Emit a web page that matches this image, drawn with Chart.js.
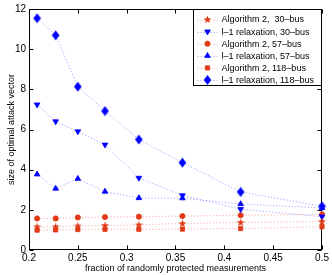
<!DOCTYPE html>
<html><head><meta charset="utf-8">
<script src="https://cdn.jsdelivr.net/npm/chart.js@4"></script>
<style>html,body{margin:0;padding:0;background:#fff;}#wrap{width:332px;height:275px;position:relative;}</style>
</head><body><div id="wrap"><canvas id="c"></canvas></div>
<script>
// ---- data ----
const fractions = [0.2083, 0.2273, 0.25, 0.2778, 0.3125, 0.3571, 0.4167, 0.5];
const alg2_30  = [1.16, 1.16, 1.20, 1.22, 1.25, 1.32, 1.37, 1.42];
const l1_30    = [7.24, 6.40, 5.90, 5.24, 3.59, 2.72, 2.03, 1.66];
const alg2_57  = [1.57, 1.57, 1.62, 1.64, 1.66, 1.69, 1.73, 1.77];
const l1_57    = [3.77, 3.06, 3.55, 2.91, 2.59, 2.58, 2.29, 2.10];
const alg2_118 = [0.99, 1.00, 1.02, 1.03, 1.03, 1.04, 1.07, 1.16];
const l1_118   = [11.54, 10.69, 8.13, 6.92, 5.50, 4.35, 2.89, 2.18];
const seriesLabels = ['Algorithm 2,  30\u2013bus', 'l\u20131 relaxation, 30\u2013bus', 'Algorithm 2, 57\u2013bus',
  'l\u20131 relaxation, 57\u2013bus', 'Algorithm 2, 118\u2013bus', 'l\u20131 relaxation, 118\u2013bus'];
const xTickValues = [0.2, 0.25, 0.3, 0.35, 0.4, 0.45, 0.5];
const yTickValues = [0, 2, 4, 6, 8, 10, 12];
const xTitle = 'fraction of randomly protected measurements';
const yTitle = 'size of optimal attack vector';

// ---- styles ----
const RED = 'rgb(224,58,22)', RED_LINE = 'rgba(235,90,70,0.45)';
const BLUE = 'rgb(0,0,255)', BLUE_LINE = 'rgba(80,80,255,0.5)';
const FONT = "'Liberation Sans', Arial, Helvetica, sans-serif";

function starImg(color) {
  const c = document.createElement('canvas'); c.width = 9; c.height = 9;
  const g = c.getContext('2d'); g.fillStyle = color; g.beginPath();
  for (let i = 0; i < 10; i++) {
    const r = i % 2 ? 1.7 : 4.2, a = -Math.PI / 2 + i * Math.PI / 5;
    const px = 4.5 + r * Math.cos(a), py = 4.7 + r * Math.sin(a);
    i ? g.lineTo(px, py) : g.moveTo(px, py);
  }
  g.closePath(); g.fill(); return c;
}
function diamondImg(color) {
  const c = document.createElement('canvas'); c.width = 9; c.height = 11;
  const g = c.getContext('2d'); g.fillStyle = color; g.beginPath();
  g.moveTo(4.5, 0.5); g.lineTo(8.3, 5.5); g.lineTo(4.5, 10.5); g.lineTo(0.7, 5.5); g.closePath(); g.fill();
  return c;
}

const toPts = ys => ys.map((y, i) => ({x: fractions[i], y}));
function ds(label, ys, lineColor, color, style, radius, rotation) {
  return {label, data: toPts(ys), borderColor: lineColor, borderWidth: 1, borderDash: [1.2, 2],
    pointStyle: style, pointRadius: radius, pointRotation: rotation || 0,
    pointBackgroundColor: color, pointBorderColor: color, pointBorderWidth: 0.8,
    pointHoverRadius: radius, clip: false, tension: 0, fill: false};
}
const datasets = [
  ds(seriesLabels[0], alg2_30, RED_LINE, RED, starImg(RED), 4),
  ds(seriesLabels[1], l1_30, BLUE_LINE, BLUE, 'triangle', 3.3, 180),
  ds(seriesLabels[2], alg2_57, RED_LINE, RED, 'circle', 2.6),
  ds(seriesLabels[3], l1_57, BLUE_LINE, BLUE, 'triangle', 3.3, 0),
  ds(seriesLabels[4], alg2_118, RED_LINE, RED, 'rect', 3),
  ds(seriesLabels[5], l1_118, BLUE_LINE, BLUE, diamondImg(BLUE), 4)
];

const boxPlugin = {
  id: 'box',
  beforeDatasetsDraw(chart) {
    const {ctx, chartArea: a, scales: {x, y}} = chart;
    ctx.save(); ctx.strokeStyle = '#000'; ctx.lineWidth = 1;
    const L = Math.round(a.left) + 0.5, R = Math.round(a.right) - 0.5, T = Math.round(a.top) + 0.5, B = Math.round(a.bottom) - 0.5;
    ctx.strokeRect(L, T, R - L, B - T);
    ctx.beginPath();
    x.ticks.forEach(t => { const px = Math.round(x.getPixelForValue(t.value)) + 0.5;
      ctx.moveTo(px, B); ctx.lineTo(px, B - 4); ctx.moveTo(px, T); ctx.lineTo(px, T + 4); });
    y.ticks.forEach(t => { const py = Math.round(y.getPixelForValue(t.value)) + 0.5;
      ctx.moveTo(L, py); ctx.lineTo(L + 4, py); ctx.moveTo(R, py); ctx.lineTo(R - 4, py); });
    ctx.stroke(); ctx.restore();
  },
  afterDraw(chart) {
    const {ctx, chartArea: a} = chart;
    const right = Math.round(a.right) - 0.5, top = Math.round(a.top) + 0.5;
    const left = right - 128, bottom = top + 76;
    ctx.save();
    ctx.fillStyle = '#fff'; ctx.fillRect(left, top, right - left, bottom - top);
    ctx.strokeStyle = '#000'; ctx.lineWidth = 1; ctx.strokeRect(left, top, right - left, bottom - top);
    ctx.font = '9px ' + FONT; ctx.textBaseline = 'middle'; ctx.textAlign = 'left';
    chart.data.datasets.forEach((d, i) => {
      const cy = top + 10 + i * 12.1;
      ctx.strokeStyle = d.borderColor; ctx.setLineDash(d.borderDash); ctx.lineWidth = 1;
      ctx.beginPath(); ctx.moveTo(left + 4, Math.round(cy) + 0.5); ctx.lineTo(left + 24, Math.round(cy) + 0.5); ctx.stroke();
      ctx.setLineDash([]);
      ctx.fillStyle = d.pointBackgroundColor; ctx.strokeStyle = d.pointBorderColor; ctx.lineWidth = d.pointBorderWidth;
      Chart.helpers.drawPoint(ctx, {pointStyle: d.pointStyle, radius: d.pointRadius, rotation: d.pointRotation, borderWidth: d.pointBorderWidth}, left + 14, cy);
      ctx.fillStyle = '#000';
      ctx.fillText(d.label, left + 28, cy + 0.5);
    });
    ctx.restore();
  }
};

new Chart(document.getElementById('c'), {
  type: 'line',
  data: {datasets},
  plugins: [boxPlugin],
  options: {
    responsive: true, maintainAspectRatio: false, animation: false, devicePixelRatio: 1,
    layout: {padding: {left: 0, right: 10, top: 8, bottom: 0}},
    plugins: {legend: {display: false}, tooltip: {enabled: false}},
    scales: {
      x: {type: 'linear', min: 0.2, max: 0.5,
        afterBuildTicks: s => { s.ticks = xTickValues.map(v => ({value: v})); },
        afterFit: s => { s.height = 25; },
        grid: {display: false, drawTicks: false}, border: {display: false},
        ticks: {color: '#000', font: {family: FONT, size: 10}, padding: 2, maxRotation: 0, autoSkip: false,
          callback: v => String(Number(v.toFixed(2)))},
        title: {display: true, text: xTitle, color: '#000', font: {family: FONT, size: 9}, padding: {top: 0, bottom: 1}}
      },
      y: {type: 'linear', min: 0, max: 12,
        afterBuildTicks: s => { s.ticks = yTickValues.map(v => ({value: v})); },
        afterFit: s => { s.width = 29; },
        grid: {display: false, drawTicks: false}, border: {display: false},
        ticks: {color: '#000', font: {family: FONT, size: 10}, padding: 3},
        title: {display: true, text: yTitle, color: '#000', font: {family: FONT, size: 9}, padding: {top: 6, bottom: 0}}
      }
    }
  }
});
</script>
</body></html>
